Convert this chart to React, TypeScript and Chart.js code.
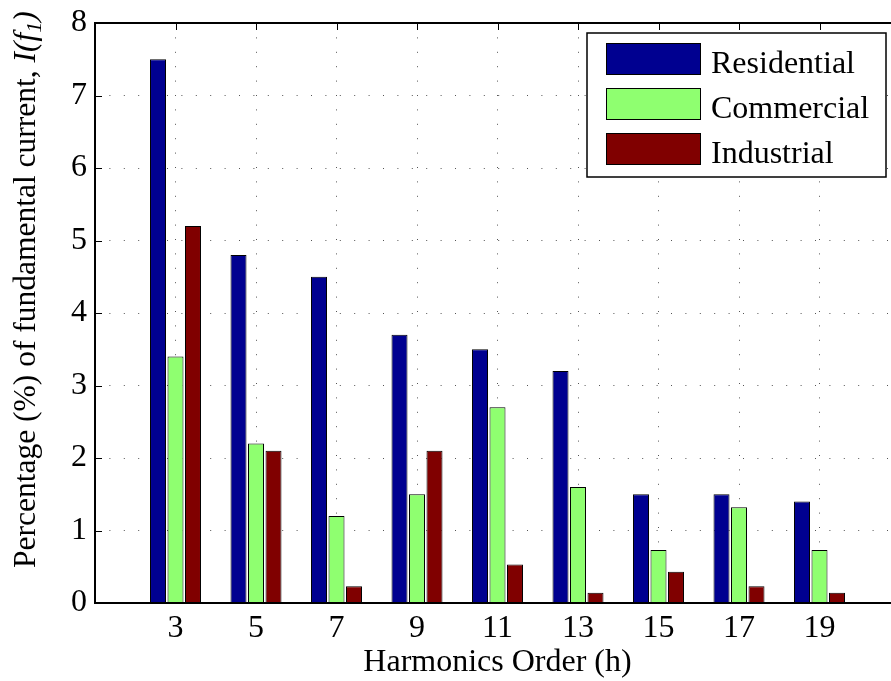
import { useEffect, useRef } from 'react';
import { Chart, registerables } from 'chart.js';

Chart.register(...registerables);

// Harmonic orders on the x axis
const harmonics = [3, 5, 7, 9, 11, 13, 15, 17, 19];
// Harmonic current as % of the fundamental, per load type
const residential = [7.5, 4.8, 4.5, 3.7, 3.5, 3.2, 1.5, 1.5, 1.4];
const commercial = [3.4, 2.2, 1.2, 1.5, 2.7, 1.6, 0.73, 1.32, 0.73];
const industrial = [5.2, 2.1, 0.23, 2.1, 0.53, 0.14, 0.43, 0.23, 0.14];
const yTicks = [0, 1, 2, 3, 4, 5, 6, 7, 8];

const seriesNames = ['Residential', 'Commercial', 'Industrial'];
const seriesColors = ['#000090', '#8FFF70', '#800000'];

const FONT = '"Liberation Serif", "Times New Roman", serif';
const FONT_SIZE = 32;

// One empty slot on each side so the bar groups sit one step in from the frame
const pad = <T,>(arr: T[]): (T | null)[] => [null, ...arr, null];
const xLabels = ['', ...harmonics.map(String), ''];

const framePlugin = {
  id: 'frame',
  beforeDatasetsDraw(chart: any) {
    const { ctx, chartArea: a, scales } = chart;
    const x = scales.x;
    const y = scales.y;
    ctx.save();
    ctx.strokeStyle = '#000';
    ctx.lineWidth = 1;
    ctx.beginPath();
    harmonics.forEach((_, i) => {
      const px = Math.round(x.getPixelForTick(i + 1)) + 0.5;
      ctx.moveTo(px, a.top);
      ctx.lineTo(px, a.top + 7);
      ctx.moveTo(px, a.bottom);
      ctx.lineTo(px, a.bottom - 7);
    });
    yTicks.forEach((v) => {
      const py = Math.round(y.getPixelForValue(v)) + 0.5;
      ctx.moveTo(a.left, py);
      ctx.lineTo(a.left + 7, py);
      ctx.moveTo(a.right, py);
      ctx.lineTo(a.right - 7, py);
    });
    ctx.stroke();
    ctx.restore();
  },
  afterDatasetsDraw(chart: any) {
    const { ctx, chartArea: a } = chart;
    ctx.save();
    ctx.strokeStyle = '#000';
    ctx.lineWidth = 2;
    ctx.strokeRect(a.left, a.top, a.right - a.left, a.bottom - a.top);
    ctx.restore();
  },
};

const legendPlugin = {
  id: 'boxLegend',
  afterDraw(chart: any) {
    const { ctx, chartArea: a } = chart;
    const w = 299;
    const h = 144;
    const left = a.right - 14 - w;
    const top = a.top + 10;
    ctx.save();
    ctx.fillStyle = '#fff';
    ctx.fillRect(left, top, w, h);
    ctx.strokeStyle = '#000';
    ctx.lineWidth = 1.5;
    ctx.strokeRect(left, top, w, h);
    ctx.font = `${FONT_SIZE}px ${FONT}`;
    ctx.textAlign = 'left';
    ctx.textBaseline = 'alphabetic';
    chart.data.datasets.forEach((ds: any, i: number) => {
      const sy = top + 10 + i * 45;
      ctx.fillStyle = ds.backgroundColor;
      ctx.fillRect(left + 19, sy, 95, 32);
      ctx.lineWidth = 1;
      ctx.strokeRect(left + 19.5, sy + 0.5, 94, 31);
      ctx.fillStyle = '#000';
      ctx.fillText(ds.label, left + 124, sy + 30);
    });
    ctx.restore();
  },
};

// Vertical axis title with an italic I(f1) and a subscripted 1
const yTitlePlugin = {
  id: 'yTitle',
  afterDraw(chart: any) {
    const { ctx } = chart;
    const size = 31.5;
    const parts = [
      { text: 'Percentage (%) of fundamental current, ', font: `${size}px ${FONT}`, dy: 0 },
      { text: 'I(f', font: `italic ${size}px ${FONT}`, dy: 0 },
      { text: '1', font: `italic 22px ${FONT}`, dy: 6 },
      { text: ')', font: `italic ${size}px ${FONT}`, dy: 0 },
    ];
    ctx.save();
    ctx.translate(35, 568);
    ctx.rotate(-Math.PI / 2);
    ctx.fillStyle = '#000';
    ctx.textAlign = 'left';
    ctx.textBaseline = 'alphabetic';
    let cx = 0;
    parts.forEach((p) => {
      ctx.font = p.font;
      ctx.fillText(p.text, cx, p.dy);
      cx += ctx.measureText(p.text).width;
    });
    ctx.restore();
  },
};

export default function App() {
  const canvasRef = useRef<HTMLCanvasElement | null>(null);

  useEffect(() => {
    const canvas = canvasRef.current;
    if (!canvas) return;
    const values = [residential, commercial, industrial];
    const chart = new Chart(canvas, {
      type: 'bar',
      data: {
        labels: xLabels,
        datasets: values.map((v, i) => ({
          label: seriesNames[i],
          data: pad(v),
          backgroundColor: seriesColors[i],
          borderColor: '#000',
          borderWidth: 1,
          categoryPercentage: 0.652,
          barPercentage: 0.914,
        })),
      },
      options: {
        responsive: false,
        animation: false,
        events: [],
        layout: { padding: { left: 0, top: 23, right: 0, bottom: 0 }, autoPadding: false },
        plugins: {
          legend: { display: false },
          tooltip: { enabled: false },
        },
        scales: {
          x: {
            type: 'category',
            offset: false,
            grid: {
              offset: false,
              drawTicks: false,
              lineWidth: 1,
              color: (c: any) =>
                c.index === 0 || c.index === xLabels.length - 1 ? 'rgba(0,0,0,0)' : '#555',
            },
            border: { display: false, dash: [1, 13.4] },
            ticks: {
              color: '#000',
              padding: 6,
              maxRotation: 0,
              autoSkip: false,
              font: { family: FONT, size: FONT_SIZE },
            },
            title: {
              display: true,
              text: 'Harmonics Order (h)',
              color: '#000',
              font: { family: FONT, size: FONT_SIZE },
              padding: { top: 0, bottom: -1 },
            },
            afterFit: (s: any) => {
              s.height = 78;
              s.paddingLeft = 0;
              s.paddingRight = 0;
              s.paddingTop = 0;
              s.paddingBottom = 0;
            },
          },
          y: {
            min: 0,
            max: 8,
            grid: {
              drawTicks: false,
              lineWidth: 1,
              color: (c: any) =>
                c.tick && (c.tick.value === 0 || c.tick.value === 8) ? 'rgba(0,0,0,0)' : '#555',
            },
            border: { display: false, dash: [1, 13.4] },
            ticks: {
              stepSize: 1,
              color: '#000',
              padding: 8,
              font: { family: FONT, size: FONT_SIZE },
            },
            afterFit: (s: any) => {
              s.width = 95;
              s.paddingLeft = 0;
              s.paddingRight = 0;
              s.paddingTop = 0;
              s.paddingBottom = 0;
            },
          },
        },
      },
      plugins: [framePlugin, legendPlugin, yTitlePlugin],
    });
    return () => chart.destroy();
  }, []);

  return (
    <div
      style={{
        position: 'absolute',
        left: 0,
        top: 0,
        width: 891,
        height: 681,
        overflow: 'hidden',
        background: '#fff',
      }}
    >
      <canvas ref={canvasRef} width={900} height={681} style={{ display: 'block' }} />
    </div>
  );
}
